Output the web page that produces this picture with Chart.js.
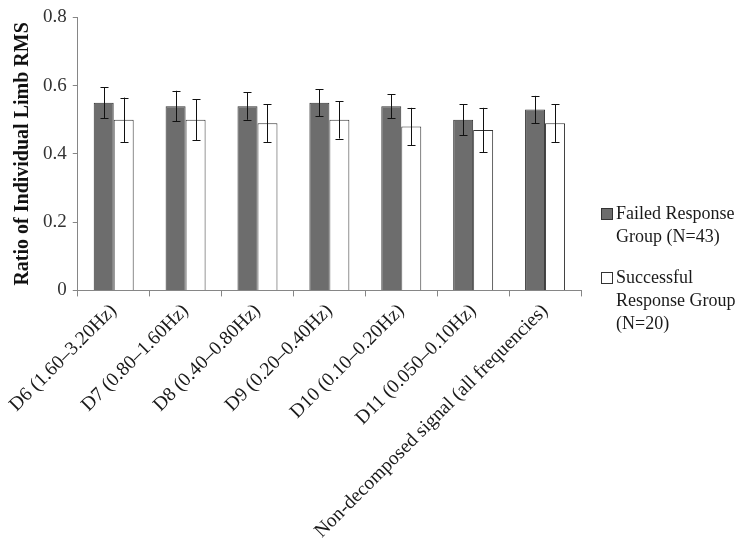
<!DOCTYPE html>
<html>
<head>
<meta charset="utf-8">
<script src="https://cdn.jsdelivr.net/npm/chart.js@4"></script>
<style>
  body { margin: 0; background: #fff; }
  #wrap { position: relative; width: 754px; height: 552px; }
  #legend { position: absolute; left: 601px; top: 202px; font-family: "Liberation Serif", "Times New Roman", serif; font-size: 18px; color: #1a1a1a; line-height: 23px; }
  .item { display: flex; align-items: flex-start; margin-bottom: 18px; }
  .box { width: 10px; height: 10px; border: 1px solid #333; margin: 6px 3px 0 0; flex: none; }
  .txt { width: 138px; }
</style>
</head>
<body>
<div id="wrap">
  <canvas id="c" width="754" height="552"></canvas>
  <div id="legend"></div>
</div>
<script>
const categories = ["D6 (1.60\u20133.20Hz)", "D7 (0.80\u20131.60Hz)", "D8 (0.40\u20130.80Hz)", "D9 (0.20\u20130.40Hz)", "D10 (0.10\u20130.20Hz)", "D11 (0.050\u20130.10Hz)", "Non-decomposed signal (all frequencies)"];
const seriesNames = ["Failed Response Group (N=43)", "Successful Response Group (N=20)"];
const failedVals = [0.55, 0.54, 0.54, 0.55, 0.54, 0.50, 0.53];
const failedErr = [0.045, 0.045, 0.04, 0.04, 0.035, 0.045, 0.04];
const successVals = [0.50, 0.50, 0.49, 0.50, 0.48, 0.47, 0.49];
const successErr = [0.065, 0.06, 0.055, 0.055, 0.055, 0.065, 0.055];
const yTicks = [0, 0.2, 0.4, 0.6, 0.8];

const serif = "'Liberation Serif', 'Times New Roman', serif";
const fills = ["#6d6d6d", "#ffffff"];

// error bars drawn from the y scale
const errorBars = {
  id: "errorBars",
  afterDatasetsDraw(chart) {
    const ctx = chart.ctx, y = chart.scales.y;
    chart.data.datasets.forEach((ds, i) => {
      chart.getDatasetMeta(i).data.forEach((bar, j) => {
        const v = ds.data[j], e = ds.errors[j];
        const top = y.getPixelForValue(v + e), bot = y.getPixelForValue(v - e);
        const x = Math.round(bar.x) + 0.5;
        ctx.save();
        ctx.strokeStyle = "#111";
        ctx.lineWidth = 1;
        ctx.beginPath();
        ctx.moveTo(x, top); ctx.lineTo(x, bot);
        ctx.moveTo(x - 4, Math.round(top) + 0.5); ctx.lineTo(x + 4, Math.round(top) + 0.5);
        ctx.moveTo(x - 4, Math.round(bot) + 0.5); ctx.lineTo(x + 4, Math.round(bot) + 0.5);
        ctx.stroke();
        ctx.restore();
      });
    });
  }
};

new Chart(document.getElementById("c"), {
  type: "bar",
  data: {
    labels: categories,
    datasets: [
      { label: seriesNames[0], data: failedVals, errors: failedErr, backgroundColor: fills[0], borderColor: "#333", borderWidth: 1 },
      { label: seriesNames[1], data: successVals, errors: successErr, backgroundColor: fills[1], borderColor: "#333", borderWidth: 1 }
    ]
  },
  options: {
    responsive: false,
    animation: false,
    categoryPercentage: 0.556,
    barPercentage: 1,
    layout: { padding: { top: 15, right: 173, left: 7, bottom: 6 } },
    plugins: { legend: { display: false }, tooltip: { enabled: false } },
    scales: {
      x: {
        grid: { offset: true, drawOnChartArea: false, tickLength: 6, color: "#868686" },
        border: { color: "#868686" },
        ticks: { maxRotation: 45, minRotation: 45, color: "#1a1a1a", font: { family: serif, size: 19.5 } }
      },
      y: {
        min: 0, max: 0.8,
        afterBuildTicks: axis => { axis.ticks = yTicks.map(v => ({ value: v })); },
        grid: { drawOnChartArea: false, tickLength: 5, color: "#868686" },
        border: { color: "#868686" },
        ticks: { color: "#333", padding: 6, font: { family: serif, size: 19 }, callback: v => String(v) },
        title: { display: true, text: "Ratio of Individual Limb RMS", color: "#111", font: { family: serif, size: 20, weight: "bold" }, padding: { bottom: 2 } }
      }
    }
  },
  plugins: [errorBars]
});

// legend as real text
const legend = document.getElementById("legend");
seriesNames.forEach((name, i) => {
  const item = document.createElement("div");
  item.className = "item";
  item.innerHTML = `<span class="box" style="background:${fills[i]}"></span><span class="txt">${name}</span>`;
  legend.appendChild(item);
});
</script>
</body>
</html>
